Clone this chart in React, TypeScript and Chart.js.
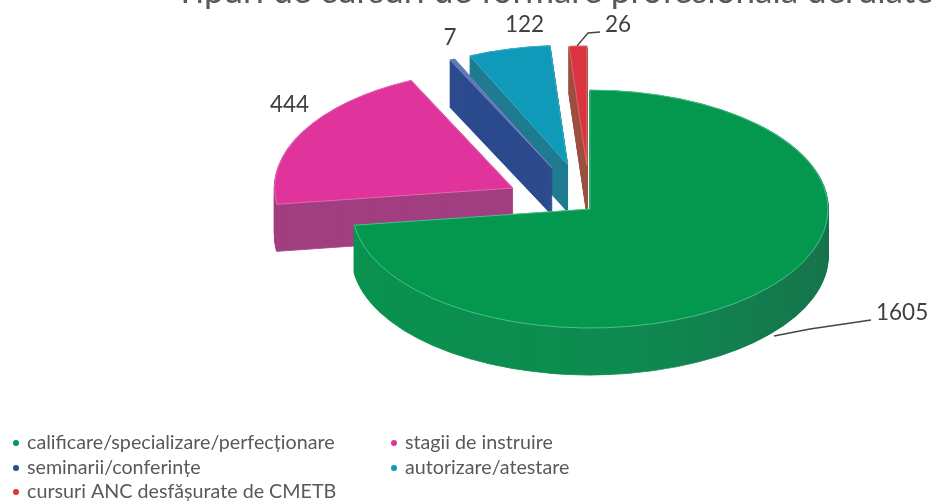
import React, { useEffect, useRef } from "react";
import { Chart, registerables } from "chart.js";

Chart.register(...registerables);

const titleText = "Tipuri de cursuri de formare profesională derulate";
const categories = [
  "calificare/specializare/perfecționare",
  "stagii de instruire",
  "seminarii/conferințe",
  "autorizare/atestare",
  "cursuri ANC desfășurate de CMETB",
];
const values = [1605, 444, 7, 122, 26];
const topColors = ["#04984f", "#e0339b", "#5d78b6", "#0e9ab8", "#dc3340"];
const edgeColors = ["#62cd9b", "#ef78bd", "#7f95c8", "#45b5cd", "#e9727a"];
const wallColors = ["#0d8b50", "#a23f80", "#2c4b8e", "#1f7c90", "#9e5040"];
const legendColors = ["#04984f", "#e0339b", "#2c4b8e", "#0e9ab8", "#dc3340"];
const explode = [0, 88, 91, 92, 88];
const drawOrder = [4, 3, 2, 1, 0];

const SQUASH = 0.5;
const DEPTH = 47;

const labelSpots = [
  { x: 876, y: 313, align: "left" },
  { x: 270, y: 105, align: "left" },
  { x: 450, y: 38, align: "center" },
  { x: 505, y: 25, align: "left" },
  { x: 605, y: 25, align: "left" },
];
const leaders = [
  [[774, 336], [810, 329], [871, 320]],
  [],
  [],
  [],
  [[577, 46], [588, 33], [600, 32]],
];
const legendSpots = [
  { x: 13, y: 443 },
  { x: 391, y: 443 },
  { x: 13, y: 468 },
  { x: 391, y: 468 },
  { x: 13, y: 492 },
];

const pie3d = {
  id: "pie3d",
  beforeDatasetsDraw(chart: any) {
    const ctx = chart.ctx;
    const arcs = chart.getDatasetMeta(0).data;
    for (const i of drawOrder) {
      const arc = arcs[i];
      const mid = (arc.startAngle + arc.endAngle) / 2;
      const ox = Math.cos(mid) * explode[i];
      const oy = Math.sin(mid) * explode[i];
      const base = arc.options;
      let wallFill: any = wallColors[i];
      if (i === 0) {
        const g = ctx.createLinearGradient(arc.x - arc.outerRadius, 0, arc.x + arc.outerRadius, 0);
        g.addColorStop(0, "#09924f");
        g.addColorStop(0.6, "#0e8a50");
        g.addColorStop(1, "#16744c");
        wallFill = g;
      }
      const wall = Object.create(base);
      wall.backgroundColor = wallFill;
      wall.borderColor = wallFill;
      wall.borderWidth = 1.5;
      arc.options = wall;
      for (let d = DEPTH; d >= 0; d -= 1) {
        ctx.save();
        ctx.translate(ox, arc.y + d);
        ctx.scale(1, SQUASH);
        ctx.translate(0, -arc.y + oy);
        arc.draw(ctx);
        ctx.restore();
      }
      arc.options = base;
      ctx.save();
      ctx.translate(ox, arc.y);
      ctx.scale(1, SQUASH);
      ctx.translate(0, -arc.y + oy);
      arc.draw(ctx);
      ctx.restore();
    }
    return false;
  },
  afterDraw(chart: any) {
    const ctx = chart.ctx;
    ctx.save();

    ctx.textBaseline = "alphabetic";
    ctx.fillStyle = "#595959";
    ctx.font = '35px Lato';
    ctx.textAlign = "left";
    ctx.fillText(chart.options.plugins.title.text, 175, 3);

    ctx.textBaseline = "middle";
    ctx.strokeStyle = "#444444";
    ctx.lineWidth = 1.3;
    for (const line of leaders) {
      if (!line.length) continue;
      ctx.beginPath();
      line.forEach((p: number[], k: number) => (k ? ctx.lineTo(p[0], p[1]) : ctx.moveTo(p[0], p[1])));
      ctx.stroke();
    }

    ctx.fillStyle = "#404040";
    ctx.font = '22.5px Lato';
    chart.data.datasets[0].data.forEach((v: number, i: number) => {
      ctx.textAlign = labelSpots[i].align;
      ctx.fillText(String(v), labelSpots[i].x, labelSpots[i].y);
    });

    ctx.font = '19.7px Lato';
    ctx.textAlign = "left";
    chart.data.labels.forEach((name: string, i: number) => {
      const s = legendSpots[i];
      ctx.fillStyle = legendColors[i];
      ctx.beginPath();
      ctx.arc(s.x + 3, s.y, 3, 0, Math.PI * 2);
      ctx.fill();
      ctx.fillStyle = "#595959";
      ctx.fillText(name, s.x + 14, s.y);
    });
    ctx.restore();
  },
};

export default function App() {
  const ref = useRef<HTMLCanvasElement>(null);
  useEffect(() => {
    const chart = new Chart(ref.current!, {
      type: "pie",
      data: {
        labels: categories,
        datasets: [
          {
            data: values,
            backgroundColor: topColors,
            borderColor: edgeColors,
            borderWidth: 1,
          },
        ],
      },
      options: {
        responsive: false,
        animation: false,
        radius: 238,
        layout: { padding: { left: 249, bottom: 84 } },
        plugins: {
          legend: { display: false },
          tooltip: { enabled: false },
          title: { display: false, text: titleText },
        },
      },
      plugins: [pie3d],
    } as any);
    return () => chart.destroy();
  }, []);
  return (
    <div style={{ position: "fixed", left: 0, top: 0, width: 931, height: 502, background: "#fff" }}>
      <canvas ref={ref} width={931} height={502} style={{ display: "block" }} />
    </div>
  );
}
